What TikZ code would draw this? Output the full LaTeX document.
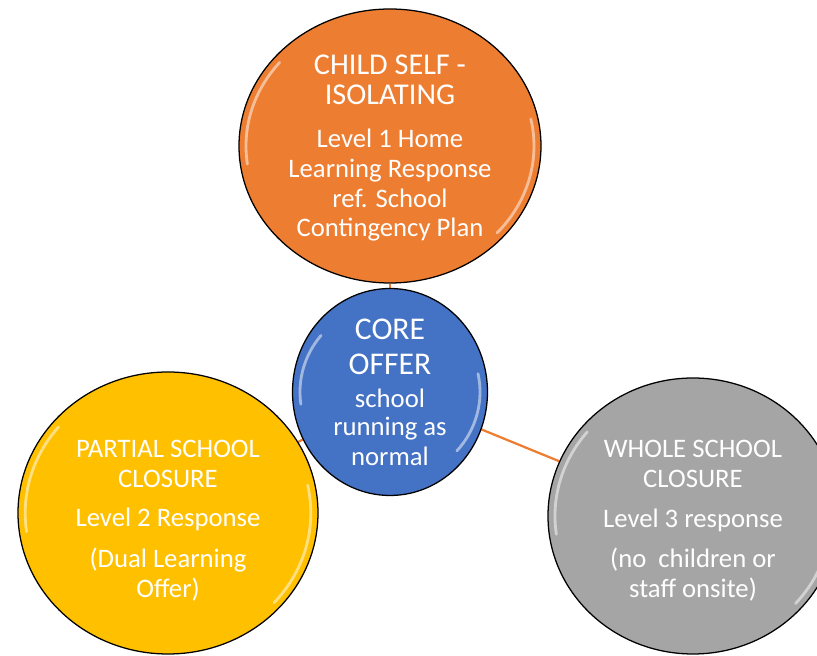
\documentclass[tikz,border=0pt]{standalone}
\usepackage{fontspec}
\setmainfont{Carlito}
\usetikzlibrary{shapes.geometric,backgrounds}

\definecolor{offerorange}{HTML}{ED7D31}
\definecolor{offerblue}{HTML}{4472C4}
\definecolor{offeryellow}{HTML}{FFC000}
\definecolor{offergray}{HTML}{A5A5A5}

\newcommand{\headsize}{\fontsize{21.5}{21.3}\selectfont}
\newcommand{\coresize}{\fontsize{22.5}{24.9}\selectfont}

\tikzset{
  bubble/.style={ellipse, draw=black, line width=0.9pt, inner sep=0pt,
    text=white, align=center, font=\fontsize{19}{21.3}\selectfont},
  % light rim on the ball, radii given in cm
  glossy/.style 2 args={path picture={
    \draw[white, opacity=.5, line width=2pt, line cap=round]
      (path picture bounding box.center) ++(188:#1 and #2)
      arc[start angle=188, end angle=140, x radius=#1, y radius=#2];
    \draw[white, opacity=.5, line width=2pt, line cap=round]
      (path picture bounding box.center) ++(12:#1 and #2)
      arc[start angle=12, end angle=-42, x radius=#1, y radius=#2];}},
  link/.style={draw=offerorange, line width=1.6pt}
}

\begin{document}
\begin{tikzpicture}
\useasboundingbox (-9.75,-6.6) rectangle (10.675,9.8);

% Mitte - Core Offer
\node (core) [bubble, fill=offerblue, minimum width=4.875cm, minimum height=4.8cm, glossy={2.25}{2.2},
  text depth=0pt]
  {\coresize CORE\\[3.5pt]\coresize OFFER\\[2.2pt]school\\[-1.4pt]running as\\normal};

% Oben - Level 1
\node (isolating) [bubble, fill=offerorange, minimum width=7.55cm, minimum height=6.85cm, glossy={3.6}{3.25},
  above of=core, node distance=6.15cm, text depth=0pt]
  {\headsize CHILD SELF -\\\headsize ISOLATING\\[9pt]Level 1 Home\\Learning Response\\ref. School\\Contingency Plan};

% Unten - Level 2 und Level 3
\node (partial) [bubble, fill=offeryellow, minimum width=7.5cm, minimum height=7.05cm, glossy={3.57}{3.35},
  below of=core, node distance=3.025cm, xshift=-5.55cm, text height=120pt, text depth=0pt]
  {PARTIAL SCHOOL\\CLOSURE\\[7pt]Level 2 Response\\[7.5pt](Dual Learning\\Offer)};
\node (whole) [bubble, fill=offergray, minimum width=7.25cm, minimum height=6.9cm, glossy={3.45}{3.27},
  below of=core, node distance=3.1cm, xshift=7.575cm, text height=116.5pt, text depth=0pt]
  {WHOLE SCHOOL\\CLOSURE\\[7pt]Level 3 response\\[7.5pt](no\ \ children or\\staff onsite)};

% Verbindungen
\begin{scope}[on background layer]
\draw[link] (core) -- (isolating);
\draw[link] (core) -- (partial);
\draw[link] (core) -- (whole);
\end{scope}

\end{tikzpicture}
\end{document}
